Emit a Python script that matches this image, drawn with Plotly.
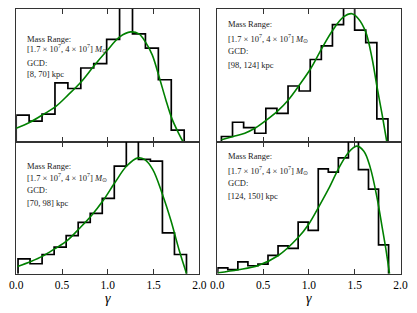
import numpy as np
import plotly.graph_objects as go

# ---------------- data ----------------
panel_gcd = ["[8, 70] kpc", "[98, 124] kpc", "[70, 98] kpc", "[124, 150] kpc"]
mass_label = "[1.7 × 10<sup>7</sup>, 4 × 10<sup>7</sup>] <i>M</i><sub>⊙</sub>"

# histogram bin ranges (gamma) and heights (arbitrary density units)
tl_range = (0.0, 1.834)
tl_counts = [0.265, 0.205, 0.275, 0.588, 0.532, 0.738, 0.782, 1.025, 1.45, 1.08, 0.938, 0.62, 0.115]
tr_range = (0.045, 1.863)
tr_counts = [0.05, 0.193, 0.14, 0.083, 0.333, 0.283, 0.557, 0.507, 0.823, 0.96, 1.173, 1.45, 1.117, 0.993, 0.227]
bl_range = (0.02, 1.859)
bl_counts = [0.15, 0.10, 0.193, 0.267, 0.383, 0.517, 0.607, 0.757, 1.083, 1.45, 1.15, 1.133, 0.41, 0.193]
br_range = (0.005, 1.87)
br_counts = [0.058, 0.042, 0.118, 0.08, 0.097, 0.185, 0.28, 0.255, 0.518, 0.435, 1.055, 1.022, 1.165, 1.45, 1.048, 0.85, 0.29]

# fitted curves
tl_fit_x = [0.0, 0.15, 0.314, 0.43, 0.57, 0.71, 0.85, 0.99, 1.13, 1.25, 1.34, 1.41, 1.485, 1.56, 1.63, 1.70, 1.775, 1.82]
tl_fit_y = [0.132, 0.193, 0.283, 0.35, 0.47, 0.60, 0.76, 0.91, 1.05, 1.10, 1.08, 1.00, 0.87, 0.65, 0.43, 0.23, 0.08, 0.0]
tr_fit_x = [0.045, 0.173, 0.30, 0.41, 0.54, 0.66, 0.775, 0.896, 1.02, 1.14, 1.26, 1.378, 1.47, 1.54, 1.62, 1.69, 1.74, 1.80, 1.85]
tr_fit_y = [0.017, 0.05, 0.083, 0.133, 0.217, 0.307, 0.417, 0.567, 0.733, 0.933, 1.117, 1.25, 1.283, 1.233, 1.10, 0.833, 0.567, 0.267, 0.0]
bl_fit_x = [0.015, 0.16, 0.29, 0.42, 0.556, 0.684, 0.82, 0.947, 1.078, 1.206, 1.33, 1.40, 1.49, 1.596, 1.69, 1.78, 1.86]
bl_fit_y = [0.073, 0.123, 0.177, 0.25, 0.333, 0.45, 0.583, 0.733, 0.917, 1.083, 1.165, 1.15, 1.05, 0.80, 0.533, 0.233, 0.0]
br_fit_x = [0.01, 0.228, 0.447, 0.666, 0.885, 0.994, 1.10, 1.213, 1.32, 1.43, 1.52, 1.60, 1.67, 1.743, 1.80, 1.843, 1.88]
br_fit_y = [0.01, 0.04, 0.083, 0.183, 0.367, 0.493, 0.66, 0.85, 1.05, 1.217, 1.283, 1.233, 1.067, 0.767, 0.467, 0.233, 0.0]

x_ticks = [0.0, 0.5, 1.0, 1.5, 2.0]
x_ticklabels = ["0.0", "0.5", "1.0", "1.5", "2.0"]
x_range = [0.0, 2.0]
y_range = [0.0, 1.33]

# ---------------- figure ----------------
W, H = 417, 313
FONT = "Liberation Serif"

def step_xy(rng, counts):
    edges = np.linspace(rng[0], rng[1], len(counts) + 1)
    xs, ys = [edges[0]], [0.0]
    for i, c in enumerate(counts):
        xs += [edges[i], edges[i + 1]]
        ys += [c, c]
    xs.append(edges[-1]); ys.append(0.0)
    return xs, ys

panels = [
    (tl_range, tl_counts, tl_fit_x, tl_fit_y),
    (tr_range, tr_counts, tr_fit_x, tr_fit_y),
    (bl_range, bl_counts, bl_fit_x, bl_fit_y),
    (br_range, br_counts, br_fit_x, br_fit_y),
]

# pixel geometry of the panels (left, right, top, bottom)
px_x = [(16.2, 199.4), (217.3, 400.5), (16.2, 199.4), (217.3, 400.5)]
px_y = [(9.0, 141.5), (9.0, 141.5), (141.5, 273.7), (141.5, 273.7)]
text_y = [(38.8, 48.8, 63.3, 74.3), (24.5, 38.0, 50.7, 65.0),
          (165.8, 177.2, 190.3, 203.0), (155.8, 170.5, 183.0, 196.3)]

fig = go.Figure()
layout = dict(width=W, height=H, margin=dict(l=0, r=0, t=0, b=0, autoexpand=False),
              paper_bgcolor="white", plot_bgcolor="white", showlegend=False,
              font=dict(family=FONT, size=11, color="black"))
annotations = []

for k, (rng, counts, fx, fy) in enumerate(panels):
    sfx = "" if k == 0 else str(k + 1)
    xa, ya = "x" + sfx, "y" + sfx
    hx, hy = step_xy(rng, counts)
    fig.add_trace(go.Scatter(x=hx, y=hy, mode="lines", xaxis=xa, yaxis=ya,
                             line=dict(color="black", width=1.7), hoverinfo="skip"))
    fig.add_trace(go.Scatter(x=fx, y=fy, mode="lines", xaxis=xa, yaxis=ya,
                             line=dict(color="#008000", width=1.6, shape="spline", smoothing=1.0),
                             hoverinfo="skip"))
    (l, r), (t, b) = px_x[k], px_y[k]
    bottom_row = k >= 2
    layout["xaxis" + sfx] = dict(domain=[l / W, r / W], range=x_range, anchor=ya,
                                 tickvals=x_ticks, ticktext=x_ticklabels, automargin=False,
                                 showticklabels=bottom_row, ticks="inside", ticklen=5,
                                 tickcolor="#333", tickwidth=1, showgrid=False, zeroline=False,
                                 showline=True, linecolor="#333", linewidth=1, mirror="ticks",
                                 tickfont=dict(family=FONT, size=11.5, color="black"))
    layout["yaxis" + sfx] = dict(domain=[1 - b / H, 1 - t / H], range=y_range, anchor=xa,
                                 showticklabels=False, ticks="", showgrid=False, zeroline=False,
                                 automargin=False,
                                 showline=True, linecolor="#333", linewidth=1, mirror=True)
    tx = (l + 9.0) / W
    lines = ["Mass Range:", mass_label, "GCD:", panel_gcd[k]]
    for txt, yy in zip(lines, text_y[k]):
        annotations.append(dict(text=txt, x=tx, y=1 - yy / H, xref="paper", yref="paper",
                                xanchor="left", yanchor="middle", showarrow=False,
                                font=dict(family=FONT, size=8.5, color="#222")))
    if bottom_row:
        annotations.append(dict(text="<i>γ</i>", x=(l + r) / 2 / W, y=1 - 298 / H,
                                xref="paper", yref="paper", xanchor="center", yanchor="middle",
                                showarrow=False, font=dict(family=FONT, size=14, color="black")))

layout["annotations"] = annotations
fig.update_layout(**layout)
fig.write_html("out.html", config={"displayModeBar": False, "staticPlot": True},
               post_script="document.body.style.margin='0px';document.body.style.overflow='hidden';")
